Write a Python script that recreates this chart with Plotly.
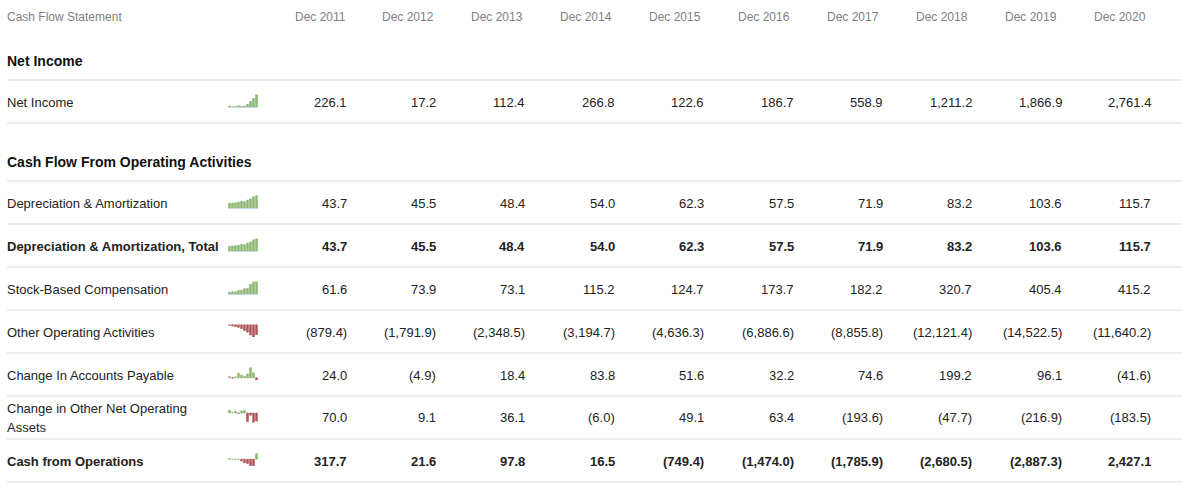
import plotly.graph_objects as go

W, H = 1182, 485

years = ["Dec 2011", "Dec 2012", "Dec 2013", "Dec 2014", "Dec 2015",
         "Dec 2016", "Dec 2017", "Dec 2018", "Dec 2019", "Dec 2020"]

net_income = [226.1, 17.2, 112.4, 266.8, 122.6, 186.7, 558.9, 1211.2, 1866.9, 2761.4]
dep_amort = [43.7, 45.5, 48.4, 54.0, 62.3, 57.5, 71.9, 83.2, 103.6, 115.7]
dep_amort_total = [43.7, 45.5, 48.4, 54.0, 62.3, 57.5, 71.9, 83.2, 103.6, 115.7]
stock_comp = [61.6, 73.9, 73.1, 115.2, 124.7, 173.7, 182.2, 320.7, 405.4, 415.2]
other_operating = [-879.4, -1791.9, -2348.5, -3194.7, -4636.3, -6886.6,
                   -8855.8, -12121.4, -14522.5, -11640.2]
change_ap = [24.0, -4.9, 18.4, 83.8, 51.6, 32.2, 74.6, 199.2, 96.1, -41.6]
change_other_assets = [70.0, 9.1, 36.1, -6.0, 49.1, 63.4, -193.6, -47.7, -216.9, -183.5]
cash_from_ops = [317.7, 21.6, 97.8, 16.5, -749.4, -1474.0, -1785.9,
                 -2680.5, -2887.3, 2427.1]

sections = ["Net Income", "Cash Flow From Operating Activities"]

row_labels = ["Net Income", "Depreciation & Amortization",
              "Depreciation & Amortization, Total", "Stock-Based Compensation",
              "Other Operating Activities", "Change In Accounts Payable",
              "Change in Other Net Operating<br>Assets", "Cash from Operations"]
row_values = [net_income, dep_amort, dep_amort_total, stock_comp,
              other_operating, change_ap, change_other_assets, cash_from_ops]
row_bold = [False, False, True, False, False, False, False, True]

# layout in pixels, top-down
section_y = [61, 162]
row_y = [102, 203, 246, 289, 332, 375, 417.5, 461]
rule_y = [80, 123, 181, 224, 267, 310, 353, 396, 439, 482]
val_right = [348.5 + 89.4 * i for i in range(10)]
head_right = [347.5 + 88.9 * i for i in range(10)]

FONT = "Liberation Sans, Arial, sans-serif"
GREEN = "#8db774"
RED = "#b0575a"
TEXT = "#222222"


def fmt(v):
    s = f"{abs(v):,.1f}"
    return f"({s})" if v < 0 else s


fig = go.Figure()
ann = []
shapes = []

# header row
ann.append(dict(x=5, y=17, text="Cash Flow Statement", xanchor="left",
                font=dict(size=12, color="#808080")))
for yr, cx in zip(years, head_right):
    ann.append(dict(x=cx, y=17, text=yr, xanchor="right",
                    font=dict(size=12, color="#808080")))

for name, sy in zip(sections, section_y):
    ann.append(dict(x=5, y=sy, text=f"<b>{name}</b>", xanchor="left",
                    font=dict(size=14, color="#111111")))

for ry in rule_y:
    shapes.append(dict(type="line", xref="x", yref="y", x0=7, x1=W, y0=ry, y1=ry,
                       line=dict(color="#d9d9d9", width=1)))

for r, (label, vals, bold, cy) in enumerate(zip(row_labels, row_values, row_bold, row_y)):
    parts = label.split("<br>")
    if len(parts) == 1:
        lines = [(parts[0], cy)]
    else:
        lines = [(parts[0], cy - 9.5), (parts[1], cy + 9.5)]
    for txt, ly in lines:
        ann.append(dict(x=5, y=ly, text=f"<b>{txt}</b>" if bold else txt,
                        xanchor="left", font=dict(size=13, color=TEXT)))
    for v, cx in zip(vals, val_right):
        t = fmt(v)
        ann.append(dict(x=cx, y=cy, text=f"<b>{t}</b>" if bold else t,
                        xanchor="right", font=dict(size=13, color=TEXT)))

    # sparkline on its own small axes
    k = r + 2
    colors = [GREEN if v >= 0 else RED for v in vals]
    fig.add_trace(go.Bar(x=list(range(10)), y=vals, marker_color=colors,
                         marker_line_color=colors, marker_line_width=0.8,
                         xaxis=f"x{k}", yaxis=f"y{k}", hoverinfo="skip",
                         showlegend=False))
    lo, hi = min(0, min(vals)), max(0, max(vals))
    top, bot = cy - 7.5, cy + 5
    fig.layout[f"xaxis{k}"] = dict(domain=[228 / W, 258 / W],
                                   range=[-0.5, 9.5], visible=False, fixedrange=True)
    fig.layout[f"yaxis{k}"] = dict(domain=[1 - bot / H, 1 - top / H],
                                   range=[lo, hi], showgrid=False, showticklabels=False,
                                   zeroline=min(vals) >= 0, zerolinecolor="#c9d8e6",
                                   zerolinewidth=1, fixedrange=True)

for a in ann:
    a.update(xref="x", yref="y", yanchor="middle", showarrow=False)
    a["font"]["family"] = FONT

fig.update_layout(
    width=W, height=H,
    margin=dict(l=0, r=0, t=0, b=0),
    paper_bgcolor="white", plot_bgcolor="rgba(0,0,0,0)",
    xaxis=dict(range=[0, W], visible=False, domain=[0, 1], fixedrange=True),
    yaxis=dict(range=[H, 0], visible=False, domain=[0, 1], fixedrange=True),
    bargap=0.45,
    annotations=ann,
    shapes=shapes,
    showlegend=False,
)

# drop the browser's default body margin so the table sits at the page corner
fig.write_html("out.html", config={"displayModeBar": False},
               post_script="document.body.style.margin='0';")
